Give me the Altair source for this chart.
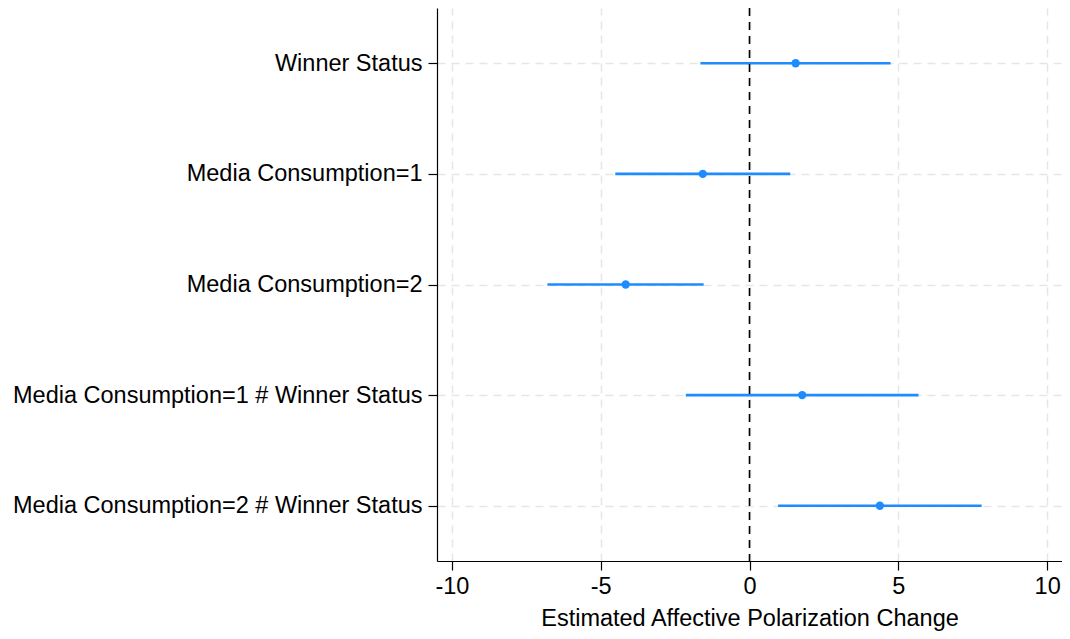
import altair as alt
import pandas as pd

terms = [
    "Winner Status",
    "Media Consumption=1",
    "Media Consumption=2",
    "Media Consumption=1 # Winner Status",
    "Media Consumption=2 # Winner Status",
]
estimates = [1.55, -1.57, -4.16, 1.77, 4.38]
ci_low = [-1.65, -4.51, -6.79, -2.14, 0.96]
ci_high = [4.74, 1.37, -1.54, 5.68, 7.80]
x_ticks = [-10, -5, 0, 5, 10]

df = pd.DataFrame({"term": terms, "est": estimates, "lo": ci_low, "hi": ci_high})

FONT = "Liberation Sans"
FS = 23.5
BLUE = "#1E8CFF"

xscale = alt.Scale(domain=[-10.5, 10.5], nice=False, zero=False)
yscale = alt.Scale(type="point", domain=terms, padding=0.5)

x_axis = alt.Axis(
    values=x_ticks, title="Estimated Affective Polarization Change",
    labelExpr="datum.value + ''",
    grid=True, gridDash=[8, 6], gridColor="#e6e6e6", gridWidth=1.5,
    domainColor="black", domainWidth=1.2, tickColor="black", tickSize=9, tickWidth=1.2,
    labelFontSize=FS, titleFontSize=FS, labelFont=FONT, titleFont=FONT,
    labelColor="black", titleColor="black", titleFontWeight="normal",
    labelPadding=4, titlePadding=9, labelFlush=False,
)
y_axis = alt.Axis(
    title=None, grid=True, gridDash=[8, 6], gridColor="#e6e6e6", gridWidth=1.5,
    domainColor="black", domainWidth=1.2, tickColor="black", tickSize=9, tickWidth=1.2,
    labelFontSize=FS, labelFont=FONT, labelColor="black", labelPadding=6, labelLimit=0,
)

base = alt.Chart(df)

ci = base.mark_rule(color=BLUE, strokeWidth=2.6).encode(
    x=alt.X("lo:Q", scale=xscale, axis=x_axis),
    x2="hi:Q",
    y=alt.Y("term:N", scale=yscale, axis=y_axis, sort=terms),
)

zero = alt.Chart(pd.DataFrame({"z": [0]})).mark_rule(
    color="black", strokeWidth=1.6, strokeDash=[8, 6]
).encode(x=alt.X("z:Q", scale=xscale))

dots = base.mark_circle(color=BLUE, size=70, opacity=1).encode(
    x=alt.X("est:Q", scale=xscale),
    y=alt.Y("term:N", scale=yscale, sort=terms),
)

chart = alt.layer(ci, zero, dots).properties(
    width=625, height=553,
    background="white",
    autosize=alt.AutoSizeParams(type="none"),
    padding={"left": 429, "top": 0, "right": 0, "bottom": 70},
).configure_view(stroke=None)

chart.save("out.html", embed_options={"renderer": "svg", "actions": False})
